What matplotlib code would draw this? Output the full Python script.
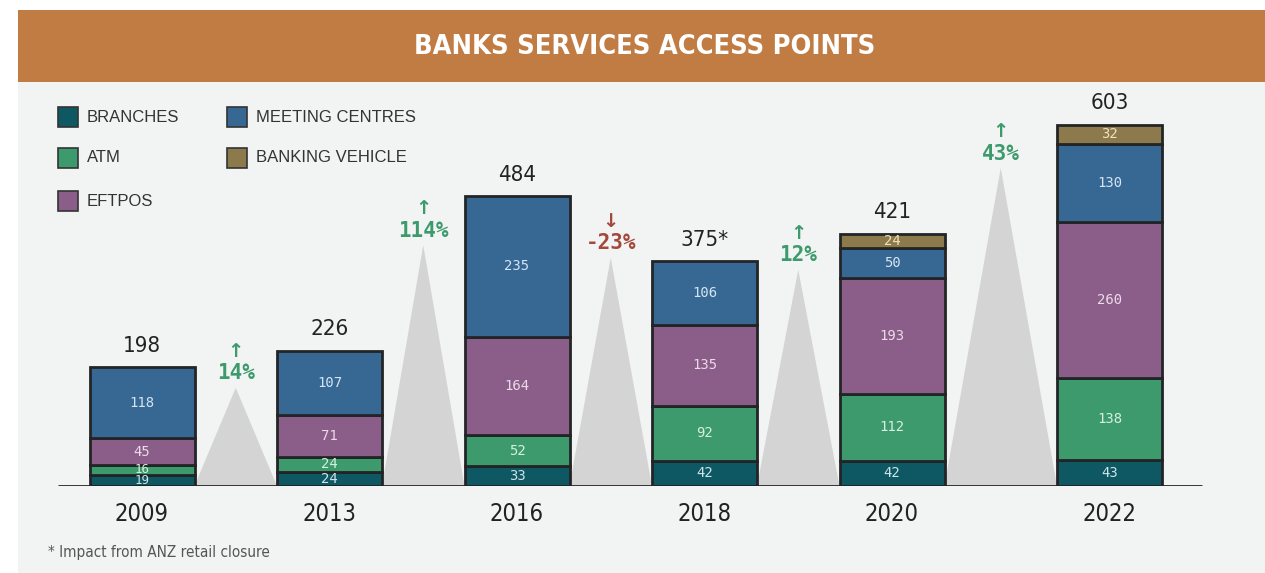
import matplotlib
matplotlib.use("Agg")
import matplotlib.pyplot as plt
from matplotlib.patches import Rectangle, Polygon
from matplotlib import font_manager
from matplotlib.font_manager import FontProperties

# ---- data ----
years = ["2009", "2013", "2016", "2018", "2020", "2022"]
totals = [198, 226, 484, 375, 421, 603]
total_labels = ["198", "226", "484", "375*", "421", "603"]
branches = [19, 24, 33, 42, 42, 43]
atm = [16, 24, 52, 92, 112, 138]
eftpos = [45, 71, 164, 135, 193, 260]
meeting_centres = [118, 107, 235, 106, 50, 130]
banking_vehicle = [0, 0, 0, 0, 24, 32]
changes = ["14%", "114%", "-23%", "12%", "43%"]
change_up = [True, True, False, True, True]
peak_heights = [164, 402, 381, 361, 531]

series_names = ["BRANCHES", "ATM", "EFTPOS", "MEETING CENTRES", "BANKING VEHICLE"]
series_values = [branches, atm, eftpos, meeting_centres, banking_vehicle]
series_colors = ["#0e5864", "#3c9a6c", "#8a5e88", "#366893", "#8c7a4c"]
label_colors = ["#cfe3e8", "#d6efe0", "#ecd9ea", "#d5e4f2", "#f0e2b8"]


# ---- fonts: prefer a narrow / condensed sans for headings and numbers ----
def narrow_font(bold=False):
    cands = []
    for f in font_manager.fontManager.ttflist:
        name = f.name.lower()
        is_narrow = ("narrow" in name or "condensed" in name or
                     str(f.stretch).lower() in ("condensed", "semi-condensed", "extra-condensed"))
        if not is_narrow or f.style != "normal":
            continue
        if "mono" in name or "serif" in name and "sans" not in name:
            continue
        w = f.weight if isinstance(f.weight, int) else (700 if "bold" in str(f.weight) else 400)
        score = abs(w - (700 if bold else 400))
        if "liberation" in name:
            score -= 50
        cands.append((score, f.fname))
    if cands:
        cands.sort()
        return FontProperties(fname=cands[0][1])
    return FontProperties(family="DejaVu Sans", stretch="condensed",
                          weight="bold" if bold else "normal")


NARROW = narrow_font(False)
NARROW_B = narrow_font(True)

BG = "#f2f3f3"
EDGE = "#222426"
GREEN = "#3c9a6c"
RED = "#a5473b"

W, H = 1265, 573
fig = plt.figure(figsize=(W / 100, H / 100), dpi=100)
fig.patch.set_facecolor("white")

# grey panel and orange title banner
fig.add_artist(Rectangle((18 / W, 0), 1 - 18 / W, (H - 82) / H,
                         transform=fig.transFigure, facecolor=BG, edgecolor="none", zorder=0))
fig.add_artist(Rectangle((18 / W, (H - 82) / H), 1 - 18 / W, 72 / H,
                         transform=fig.transFigure, facecolor="#c17c44", edgecolor="none", zorder=0))
t = NARROW_B.copy()
t.set_size(19.5)
fig.text(645 / W, (H - 47) / H, "BANKS SERVICES ACCESS POINTS", color="white",
         fontproperties=t, ha="center", va="center")

# main axes: baseline at y=486 px, 0.599 px per unit
px_per_unit = 0.599
base_px = 486
ymax = 700
ax_bottom = (H - base_px) / H
ax_height = ymax * px_per_unit / H
ax = fig.add_axes([0, ax_bottom, 1, ax_height])
ax.set_facecolor("none")
ax.axis("off")
ax.set_ylim(0, ymax)
ax.set_xlim(-142 / 187.5, (W - 142) / 187.5)

x = [0, 1, 2, 3, 4, 5.16]
bw = 0.56

# decorative triangles between bars with period-on-period change
for i in range(len(x) - 1):
    left = x[i] + bw / 2
    right = x[i + 1] - bw / 2
    mid = (left + right) / 2
    ax.add_patch(Polygon([(left, 0), (mid, peak_heights[i]), (right, 0)],
                         closed=True, facecolor="#d4d4d4", edgecolor="none", zorder=1))
    color = GREEN if change_up[i] else RED
    arrow = "\u2191" if change_up[i] else "\u2193"
    ax.text(mid, peak_heights[i] + 24, changes[i], color=color, fontsize=15,
            fontweight="bold", family="DejaVu Sans Mono", ha="center", va="center", zorder=3)
    ax.text(mid, peak_heights[i] + 61, arrow, color=color, fontsize=14,
            fontweight="bold", family="DejaVu Sans", ha="center", va="center", zorder=3)

# stacked bars
bottoms = [0] * len(years)
for vals, col, lcol in zip(series_values, series_colors, label_colors):
    for j, v in enumerate(vals):
        if v <= 0:
            continue
        ax.bar(x[j], v, width=bw, bottom=bottoms[j], color=col, edgecolor=EDGE,
               linewidth=2, zorder=2)
        fs = 10 if v >= 20 else 9
        ax.text(x[j], bottoms[j] + v / 2, str(v), color=lcol, fontsize=fs,
                family="DejaVu Sans Mono", ha="center", va="center", zorder=3)
        bottoms[j] += v

# totals above bars
tp = NARROW.copy()
tp.set_size(16)
for j, lab in enumerate(total_labels):
    ax.text(x[j], totals[j] + 36, lab, color="#222222", fontproperties=tp,
            ha="center", va="center", zorder=3)

# baseline
ax.plot([(58 - 142) / 187.5, (1202 - 142) / 187.5], [0, 0], color=EDGE,
        linewidth=2, zorder=4, solid_capstyle="butt")

# year labels
yp = NARROW.copy()
yp.set_size(17)
for j, yr in enumerate(years):
    ax.text(x[j], -46, yr, color="#222222", fontproperties=yp,
            ha="center", va="center", clip_on=False)

# legend
legend_pos = [(58, 117), (58, 158), (58, 201), (227, 117), (227, 158)]
for (lx, ly), name, col in zip(legend_pos, series_names, series_colors):
    fig.add_artist(Rectangle((lx / W, (H - ly - 10) / H), 20 / W, 20 / H,
                             transform=fig.transFigure, facecolor=col,
                             edgecolor="#333333", linewidth=1.2, zorder=3))
    fig.text((lx + 29) / W, (H - ly) / H, name, color="#333333", fontsize=12,
             family="Liberation Sans", ha="left", va="center")

# footnote
fp = NARROW.copy()
fp.set_size(11)
fig.text(48 / W, (H - 552) / H, "* Impact from ANZ retail closure", color="#555555",
         fontproperties=fp, ha="left", va="center")

fig.savefig("out.png", dpi=100, facecolor=fig.get_facecolor())
